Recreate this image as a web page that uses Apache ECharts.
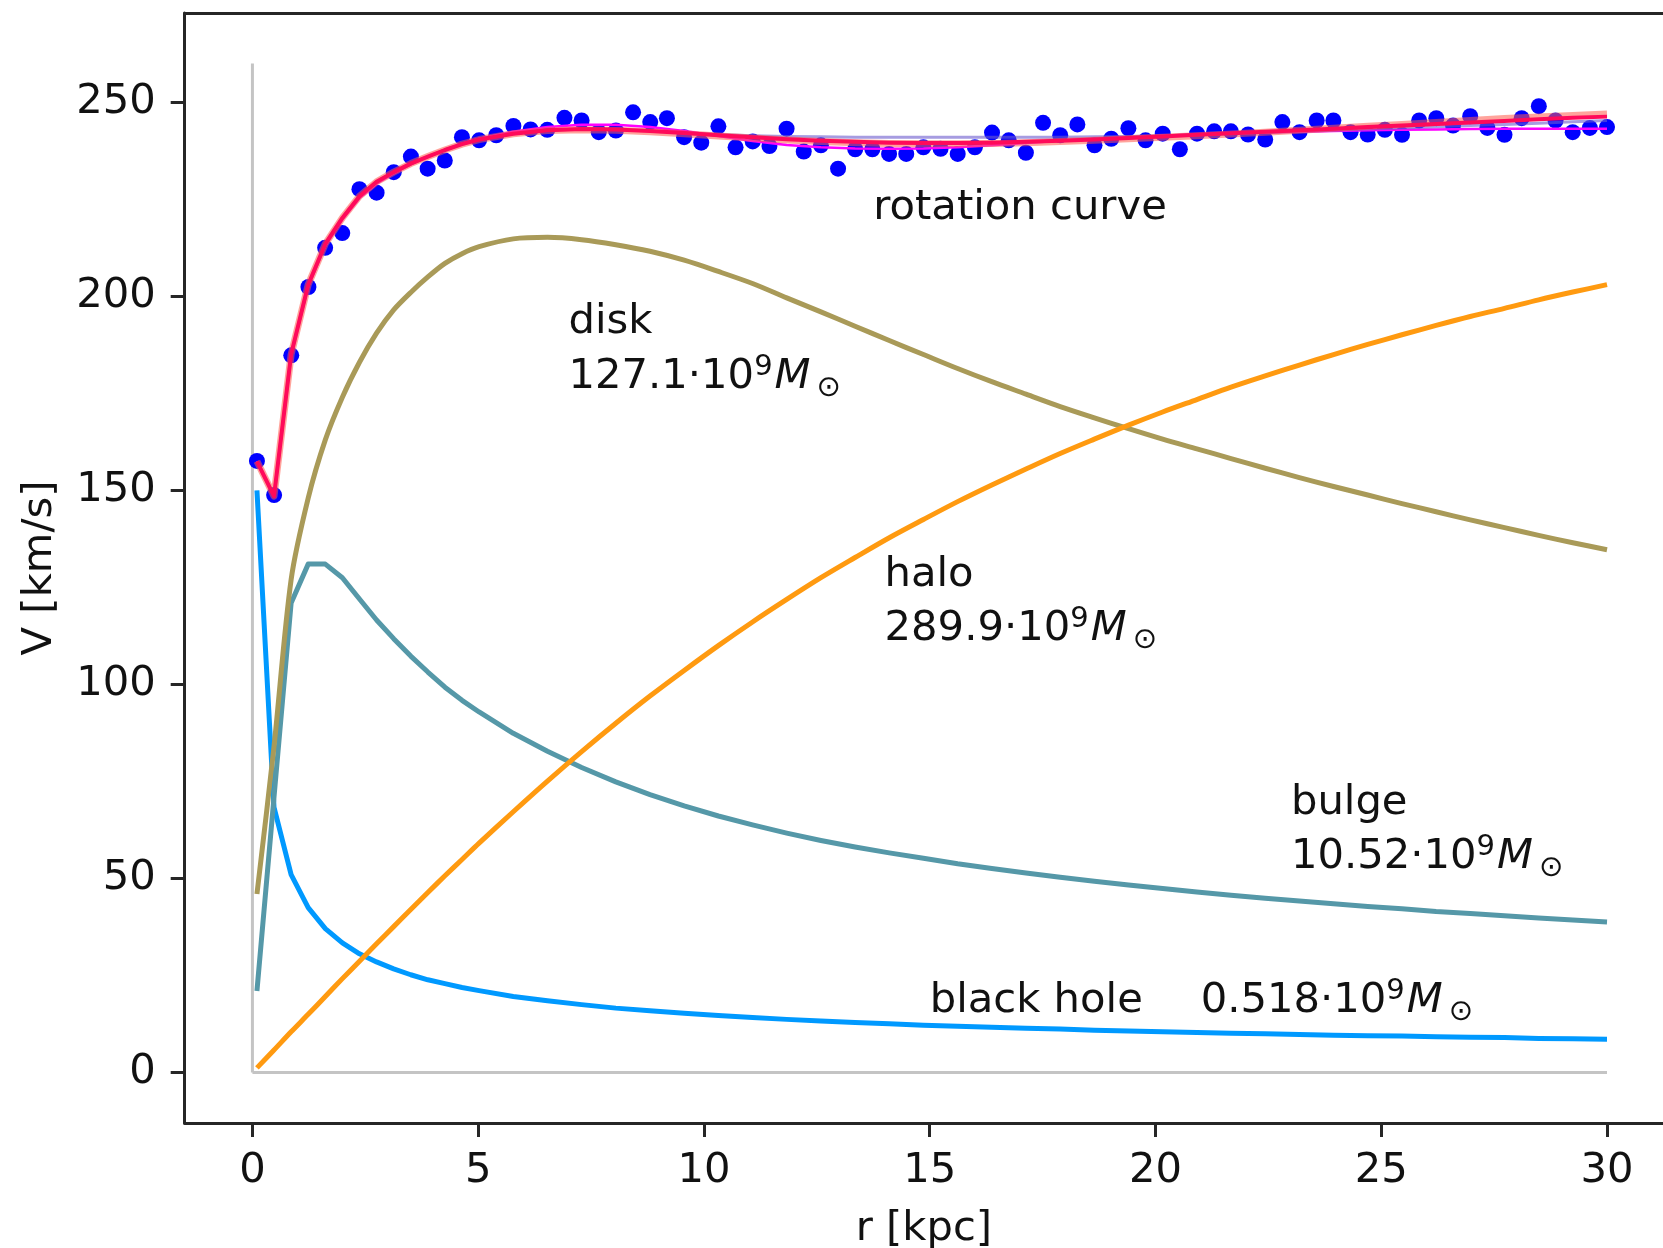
<!DOCTYPE html>
<html><head><meta charset="utf-8">
<script src="https://cdn.jsdelivr.net/npm/echarts@6/dist/echarts.min.js"></script>
<style>html,body{margin:0;padding:0;background:#fff}#c{width:1663px;height:1248px}</style>
</head><body><div id="c"></div>
<script>
// ---------- data ----------
const xTicks = [0, 5, 10, 15, 20, 25, 30];
const yTicks = [0, 50, 100, 150, 200, 250];

// radii of the measured points
const rData = [0.10,0.48,0.86,1.24,1.61,1.99,2.37,2.75,3.13,3.51,3.88,4.26,4.64,5.02,5.40,5.78,6.16,6.53,6.91,7.29,
  7.67,8.05,8.43,8.81,9.18,9.56,9.94,10.32,10.70,11.08,11.45,11.83,12.21,12.59,12.97,13.35,13.73,14.10,14.48,14.86,
  15.24,15.62,16.00,16.38,16.75,17.13,17.51,17.89,18.27,18.65,19.02,19.40,19.78,20.16,20.54,20.92,21.30,21.67,22.05,22.43,
  22.81,23.19,23.57,23.94,24.32,24.70,25.08,25.46,25.84,26.22,26.59,26.97,27.35,27.73,28.11,28.49,28.86,29.24,29.62,30.00];
// measured rotation velocities (km/s)
const vData = [157.6,148.8,184.8,202.4,212.5,216.3,227.6,226.7,232.0,236.0,232.9,235.0,241.0,240.2,241.5,243.9,243.0,242.9,246.0,245.3,
  242.3,242.7,247.4,244.9,245.9,241.0,239.6,243.8,238.4,239.9,238.7,243.2,237.3,238.9,232.9,237.9,237.9,236.7,236.7,238.4,
  238.0,236.7,238.4,242.2,240.2,237.0,244.7,241.5,244.3,238.9,240.6,243.3,240.2,241.9,237.9,241.9,242.5,242.5,241.7,240.4,
  244.9,242.3,245.3,245.3,242.3,241.7,242.9,241.6,245.3,245.9,244.0,246.4,243.4,241.6,245.9,249.0,245.3,242.3,243.4,243.6];

// radii at which the model curves are read
const rLine = [0.1,0.478,0.857,1.235,1.614,1.992,2.371,2.749,3.128,3.506,3.885,4.263,4.642,5.020,
  5.777,6.534,7.291,8.048,8.805,9.562,10.319,11.076,11.833,12.590,
  13.347,14.104,14.861,15.618,16.375,17.132,17.889,18.646,19.403,20.159,
  20.916,21.673,22.430,23.187,23.944,24.701,25.458,26.215,26.972,27.729,
  28.486,29.243,30.0];
const blackHole = [150,68.3,51.0,42.5,37.1,33.4,30.6,28.5,26.7,25.2,23.9,22.9,21.9,21.1,
  19.6,18.5,17.5,16.6,15.9,15.3,14.7,14.2,13.7,13.3,
  12.9,12.6,12.2,11.9,11.7,11.4,11.2,10.9,10.7,10.5,
  10.3,10.1,10.0,9.8,9.6,9.5,9.4,9.2,9.1,9.0,
  8.8,8.7,8.6];
const bulge = [21,71,121,131,131,127.5,122,116.6,111.8,107.3,103.2,99.3,95.9,92.9,
  87.4,82.8,78.6,74.9,71.6,68.7,66.1,63.8,61.7,59.8,
  58.1,56.6,55.2,53.8,52.6,51.4,50.3,49.3,48.3,47.4,
  46.5,45.7,44.9,44.2,43.5,42.8,42.2,41.5,41.0,40.4,
  39.8,39.3,38.8];
const disk = [46,84,127,148,163,174,183,190.5,196.5,201,205,208.5,211,212.8,
  214.8,215.2,214.6,213.3,211.6,209.3,206.4,203.3,199.6,196.0,
  192.3,188.6,185.0,181.4,178.0,174.8,171.6,168.7,165.9,163.2,
  160.7,158.2,155.7,153.3,151.0,148.8,146.6,144.5,142.4,140.4,
  138.4,136.5,134.7];
const halo = [1.2,5.8,10.5,15.0,19.6,24.2,28.7,33.2,37.6,42.0,46.4,50.7,54.9,59.1,
  67.2,75.1,82.7,90.0,97.0,103.6,110.0,116.1,121.9,127.5,
  132.7,137.8,142.5,147.1,151.4,155.5,159.5,163.2,166.8,170.2,
  173.4,176.6,179.5,182.3,185.0,187.6,190.1,192.5,194.8,196.9,
  199.1,201.1,203.0];
const totalFit = [157.5,148.5,185,203,213.5,220.2,225.8,229.5,232.0,234.2,236.0,237.7,239.2,240.4,
  241.9,242.8,243.1,243.0,242.6,242.1,241.5,241.0,240.5,240.1,
  239.8,239.6,239.5,239.5,239.6,239.8,240.1,240.4,240.8,241.2,
  241.6,242.0,242.4,242.8,243.2,243.6,244.0,244.4,244.8,245.2,
  245.6,246.0,246.3];
const broadFit = [157.5,148.5,185,203,213.5,220.2,225.8,229.5,232.0,234.2,236.0,237.7,239.2,240.4,
  241.9,242.7,242.9,242.8,242.4,241.9,241.3,240.8,240.3,239.9,
  239.6,239.4,239.3,239.3,239.4,239.6,239.9,240.2,240.6,241.0,
  241.4,241.8,242.3,242.8,243.3,243.8,244.3,244.8,245.3,245.8,
  246.2,246.6,247.0];
const blueFit = [157.5,148.5,185,203,213.5,220.2,225.8,229.5,232.0,234.2,236.0,237.7,239.2,240.4,
  241.9,242.8,243.1,243.0,242.6,242.1,241.7,241.4,241.2,241.1,
  241.0,241.0,241.0,241.0,241.0,241.0,241.0,241.1,241.2,241.4,
  241.6,241.9,242.2,242.5,242.8,243.1,243.4,243.7,244.0,244.3,
  244.6,245.0,245.3];
const smoothFit = [157.5,148.5,185,202.5,213,219.8,225.3,229,231.7,234,236,237.8,239.3,240.6,
  242.4,243.6,244.2,244.2,243.6,242.6,241.3,240.0,239.0,238.4,
  238.1,238.0,238.1,238.4,238.9,239.5,240.1,240.6,241.0,241.4,
  241.7,242.0,242.2,242.4,242.6,242.8,242.9,243.0,243.1,243.2,
  243.2,243.2,243.2];

// zero reference lines
const vRefX = [0, 0], vRefY = [0, 260];
const hRefX = [0, 30], hRefY = [0, 0];

// annotations: text and anchor (data coords of first baseline)
const rotLabel = {text: 'rotation curve', x: 13.75, y: 219.5};
const compNames = ['disk', 'halo', 'bulge', 'black hole'];
const compMass = ['127.1', '289.9', '10.52', '0.518'];
const nameAnchor = [[7.0, 190.1], [14.0, 124.9], [23.0, 66.3], [15.0, 15.3]];
const massAnchor = [[7.0, 176.0], [14.0, 111.0], [23.0, 52.4], [21.0, 15.3]];

// ---------- chart ----------
const FONT = 'DejaVu Sans';
const INK = '#111111';
const SPINE = '#262626';
const FS = 41.7, FSS = 29;
const pairs = (xs, ys) => xs.map((x, i) => [x, ys[i]]);
function lineSeries(name, ys, color, width, opacity, z, smooth) {
  return {type: 'line', name, data: pairs(rLine, ys), symbol: 'none', showSymbol: false, silent: true,
    smooth: smooth || false,
    lineStyle: {color, width, opacity, cap: 'butt', join: 'round'}, z, clip: false};
}

const chart = echarts.init(document.getElementById('c'), null, {renderer: 'canvas'});
const axisCommon = {
  type: 'value', splitLine: {show: false},
  axisLine: {show: true, onZero: false, lineStyle: {color: SPINE, width: 3}},
  axisTick: {show: true, inside: false, length: 14, lineStyle: {color: SPINE, width: 3}},
  axisLabel: {fontFamily: FONT, fontSize: FS, color: INK, margin: 27},
  nameTextStyle: {fontFamily: FONT, fontSize: FS, color: INK},
  nameLocation: 'middle'
};
const option = {
  animation: false,
  backgroundColor: '#ffffff',
  grid: {left: 184.7, top: 13, right: 0, height: 1110, containLabel: false, outerBoundsMode: 'none'},
  xAxis: [
    Object.assign({}, axisCommon, {min: -1.5, max: 31.24, position: 'bottom', name: 'r [kpc]', nameGap: 85,
      axisTick: Object.assign({}, axisCommon.axisTick, {customValues: xTicks}),
      axisLabel: Object.assign({}, axisCommon.axisLabel, {customValues: xTicks})}),
    {type: 'value', min: -1.5, max: 31.24, position: 'top', splitLine: {show: false},
      axisLine: {show: true, onZero: false, lineStyle: {color: SPINE, width: 3}},
      axisTick: {show: false}, axisLabel: {show: false}}
  ],
  yAxis: [
    Object.assign({}, axisCommon, {min: -13, max: 273, position: 'left', name: 'V [km/s]', nameGap: 124,
      axisTick: Object.assign({}, axisCommon.axisTick, {customValues: yTicks}),
      axisLabel: Object.assign({}, axisCommon.axisLabel, {margin: 29, customValues: yTicks})})
  ],
  series: [
    {type: 'line', data: pairs(vRefX, vRefY), symbol: 'none', silent: true, lineStyle: {color: '#c4c4c4', width: 3}, z: 1},
    {type: 'line', data: pairs(hRefX, hRefY), symbol: 'none', silent: true, lineStyle: {color: '#c4c4c4', width: 3}, z: 1},
    lineSeries('black hole', blackHole, '#0099ff', 5, 1, 2),
    lineSeries('bulge', bulge, '#5598a8', 5, 1, 2),
    lineSeries('disk', disk, '#a99a58', 5, 1, 2, 0.3),
    lineSeries('halo', halo, '#ff9a10', 5, 1, 2, 0.3),
    {type: 'scatter', name: 'data', data: pairs(rData, vData), symbol: 'circle', symbolSize: 16, silent: true,
      itemStyle: {color: '#0000ff', opacity: 1}, z: 3},
    lineSeries('smooth', smoothFit, '#ff00ff', 2.5, 1, 4),
    lineSeries('blue', blueFit, '#6a5acd', 3, 0.6, 5),
    lineSeries('broad', broadFit, '#ff5a4a', 7, 0.55, 6),
    lineSeries('total', totalFit, '#ff0a5a', 4, 1, 7)
  ]
};
chart.setOption(option);

// ---------- annotations anchored in data coordinates ----------
const mctx = document.createElement('canvas').getContext('2d');
function textW(t, size, italic) { mctx.font = (italic ? 'italic ' : '') + size + 'px "' + FONT + '"'; return mctx.measureText(t).width; }
function txt(x, base, t, size, italic) {
  return {type: 'text', x: x, y: base - 0.346 * size + 2, silent: true, z: 100,
    style: {text: t, fill: INK, font: (italic ? 'italic ' : '') + size + 'px "' + FONT + '"',
      textAlign: 'left', align: 'left', textVerticalAlign: 'middle', verticalAlign: 'middle'}};
}
const toPx = (p) => chart.convertToPixel({xAxisIndex: 0, yAxisIndex: 0}, p);
const g = [];
let p = toPx([rotLabel.x, rotLabel.y]);
g.push(txt(p[0], p[1], rotLabel.text, FS, false));
compNames.forEach((n, i) => {
  const a = toPx(nameAnchor[i]);
  g.push(txt(a[0], a[1], n, FS, false));
  const b = toPx(massAnchor[i]);
  const base = compMass[i] + '\u00b7' + '10';
  let x = b[0];
  g.push(txt(x, b[1], base, FS, false));
  x += textW(base, FS, false);
  g.push(txt(x, b[1] - 14, '9', FSS, false));
  x += textW('9', FSS, false) + 2;
  g.push(txt(x, b[1], 'M', FS, true));
  x += textW('M', FS, true) + 6;
  g.push(txt(x, b[1] + 7, '\u2299', FSS, false));
});
chart.setOption({graphic: {elements: g}});
</script>
</body></html>
